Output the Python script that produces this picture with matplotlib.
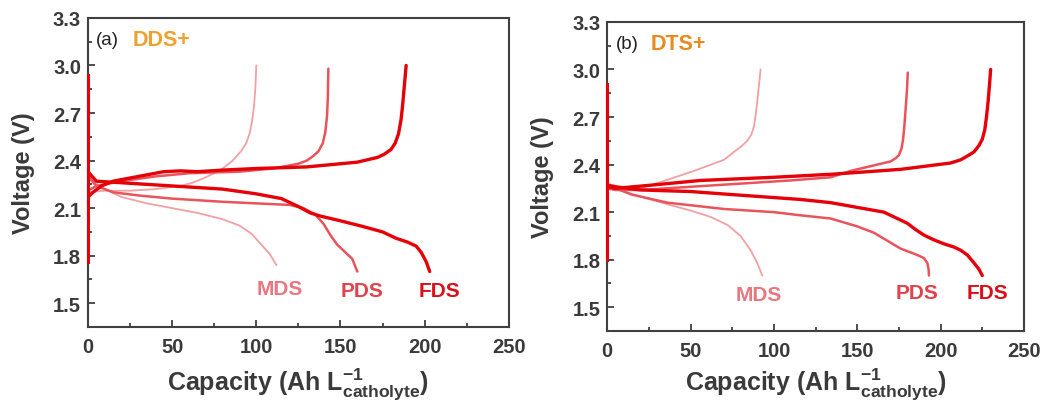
import numpy as np
import matplotlib
matplotlib.use('Agg')
import matplotlib.pyplot as plt
from matplotlib.ticker import MultipleLocator

plt.rcParams['font.family'] = ['Liberation Sans', 'DejaVu Sans']
plt.rcParams['mathtext.fontset'] = 'custom'
plt.rcParams['mathtext.rm'] = 'Liberation Sans:bold'
plt.rcParams['mathtext.it'] = 'Liberation Sans:bold'
plt.rcParams['mathtext.bf'] = 'Liberation Sans:bold'

# === Panel (a): DDS+ ===
a_mds_chg_cap = [0, 10, 25, 40, 55, 62, 68, 74, 80, 86, 91, 94, 96, 97.5, 98.7, 99.5, 100]
a_mds_chg_v = [2.20, 2.21, 2.21, 2.22, 2.24, 2.26, 2.285, 2.315, 2.35, 2.40, 2.46, 2.51, 2.57, 2.65, 2.75, 2.87, 3.00]
a_mds_dis_cap = [0, 3, 10, 20, 35, 50, 65, 80, 90, 97, 103, 108, 112]
a_mds_dis_v = [2.33, 2.27, 2.22, 2.17, 2.13, 2.10, 2.07, 2.03, 1.99, 1.94, 1.87, 1.81, 1.74]

a_pds_chg_cap = [0, 5, 20, 40, 60, 90, 110, 125, 130, 134, 137, 139.5, 141, 142, 142.5, 142.8]
a_pds_chg_v = [2.21, 2.24, 2.27, 2.30, 2.32, 2.33, 2.35, 2.38, 2.40, 2.43, 2.46, 2.51, 2.58, 2.68, 2.80, 2.98]
a_pds_dis_cap = [0, 5, 15, 30, 50, 80, 100, 120, 128, 135, 140, 144, 148, 153, 157, 160]
a_pds_dis_v = [2.30, 2.24, 2.20, 2.18, 2.16, 2.14, 2.13, 2.12, 2.10, 2.06, 2.00, 1.93, 1.87, 1.82, 1.78, 1.70]

a_fds_chg_cap = [0, 3, 8, 15, 25, 35, 45, 55, 65, 80, 100, 130, 160, 172, 176, 180, 182.5, 184.5, 186, 187, 188, 189]
a_fds_chg_v = [2.17, 2.20, 2.24, 2.27, 2.29, 2.31, 2.33, 2.335, 2.33, 2.34, 2.35, 2.36, 2.39, 2.42, 2.44, 2.47, 2.51, 2.57, 2.66, 2.76, 2.88, 3.00]
a_fds_dis_cap = [0, 5, 20, 50, 80, 100, 115, 125, 132, 138, 150, 163, 175, 183, 190, 195, 198, 201, 203]
a_fds_dis_v = [2.33, 2.27, 2.26, 2.24, 2.22, 2.19, 2.16, 2.11, 2.07, 2.05, 2.02, 1.985, 1.95, 1.91, 1.885, 1.86, 1.82, 1.76, 1.70]

a_rest_v = [1.76, 2.94]

# === Panel (b): DTS+ ===
b_mds_chg_cap = [0, 10, 20, 32, 52, 70, 76, 81, 84, 86.5, 88, 89, 90, 91, 92]
b_mds_chg_v = [2.28, 2.25, 2.25, 2.29, 2.36, 2.43, 2.48, 2.52, 2.55, 2.59, 2.64, 2.71, 2.80, 2.90, 3.00]
b_mds_dis_cap = [0, 5, 16, 36, 50, 62, 72, 80, 86, 90, 93]
b_mds_dis_v = [2.27, 2.25, 2.21, 2.15, 2.11, 2.07, 2.02, 1.95, 1.86, 1.78, 1.70]

b_pds_chg_cap = [0, 5, 20, 50, 80, 110, 134, 146, 158, 166, 170, 173, 175, 176.5, 177.5, 178.3, 179, 179.8, 180.3]
b_pds_chg_v = [2.25, 2.24, 2.24, 2.26, 2.28, 2.30, 2.32, 2.36, 2.39, 2.41, 2.42, 2.44, 2.46, 2.50, 2.56, 2.65, 2.75, 2.87, 2.98]
b_pds_dis_cap = [0, 5, 15, 36, 70, 100, 116, 134, 150, 160, 168, 176, 181, 186, 190, 192, 192.8, 193]
b_pds_dis_v = [2.27, 2.25, 2.21, 2.16, 2.12, 2.10, 2.08, 2.06, 2.01, 1.97, 1.92, 1.87, 1.85, 1.83, 1.81, 1.78, 1.74, 1.70]

b_fds_chg_cap = [0, 5, 26, 56, 100, 136, 176, 206, 212, 217, 220, 223, 225, 226.5, 227.5, 228.5, 229.3, 230]
b_fds_chg_v = [2.26, 2.25, 2.27, 2.30, 2.32, 2.34, 2.37, 2.41, 2.43, 2.46, 2.48, 2.52, 2.56, 2.62, 2.70, 2.80, 2.90, 3.00]
b_fds_dis_cap = [0, 5, 20, 50, 76, 116, 134, 150, 166, 180, 185, 190, 196, 202, 208, 212, 216, 220, 223, 225]
b_fds_dis_v = [2.27, 2.26, 2.24, 2.23, 2.21, 2.18, 2.16, 2.13, 2.10, 2.03, 1.99, 1.955, 1.925, 1.90, 1.88, 1.86, 1.83, 1.78, 1.74, 1.70]

b_rest_v = [1.80, 2.91]

# label anchor positions (capacity, voltage)
a_labels = [('MDS', 114, 1.59), ('PDS', 163, 1.58), ('FDS', 209, 1.58)]
b_labels = [('MDS', 91, 1.58), ('PDS', 186, 1.595), ('FDS', 228, 1.595)]

line_col = {'MDS': '#f2a0a4', 'PDS': '#e9545c', 'FDS': '#e60008'}
line_w = {'MDS': 1.3, 'PDS': 1.8, 'FDS': 2.4}
text_col = {'MDS': '#e8777f', 'PDS': '#e2424c', 'FDS': '#d8101a'}
frame_col = '#404040'

fig = plt.figure(figsize=(10.47, 4.02), dpi=100)
ax_a = fig.add_axes([0.084, 0.184, 0.402, 0.769])
ax_b = fig.add_axes([0.580, 0.174, 0.398, 0.769])

panels = [
    (ax_a, '(a)', 'DDS+', '#f0a030',
     {'MDS': (a_mds_chg_cap, a_mds_chg_v, a_mds_dis_cap, a_mds_dis_v),
      'PDS': (a_pds_chg_cap, a_pds_chg_v, a_pds_dis_cap, a_pds_dis_v),
      'FDS': (a_fds_chg_cap, a_fds_chg_v, a_fds_dis_cap, a_fds_dis_v)},
     a_rest_v, a_labels, 7),
    (ax_b, '(b)', 'DTS+', '#e88a20',
     {'MDS': (b_mds_chg_cap, b_mds_chg_v, b_mds_dis_cap, b_mds_dis_v),
      'PDS': (b_pds_chg_cap, b_pds_chg_v, b_pds_dis_cap, b_pds_dis_v),
      'FDS': (b_fds_chg_cap, b_fds_chg_v, b_fds_dis_cap, b_fds_dis_v)},
     b_rest_v, b_labels, 4),
]

for ax, tag, name, name_col, curves, rest_v, labels, xpad in panels:
    for key in ['MDS', 'PDS', 'FDS']:
        cc, cv, dc, dv = curves[key]
        ax.plot(cc, cv, color=line_col[key], lw=line_w[key], solid_capstyle='round',
                solid_joinstyle='round', zorder=3)
        ax.plot(dc, dv, color=line_col[key], lw=line_w[key], solid_capstyle='round',
                solid_joinstyle='round', zorder=3)
    ax.plot([0, 0], rest_v, color='#e60008', lw=2.2, zorder=4, clip_on=False)

    for lab, x, y in labels:
        ax.text(x, y, lab, color=text_col[lab], fontsize=15, fontweight='bold',
                ha='center', va='center')

    ax.text(0.02, 0.93, tag, transform=ax.transAxes, fontsize=13.5, color='#222222',
            ha='left', va='center')
    ax.text(0.105, 0.93, name, transform=ax.transAxes, fontsize=15.5, fontweight='bold',
            color=name_col, ha='left', va='center')

    ax.set_xlim(0, 250)
    ax.set_ylim(1.35, 3.3)
    ax.xaxis.set_major_locator(MultipleLocator(50))
    ax.xaxis.set_minor_locator(MultipleLocator(25))
    ax.yaxis.set_minor_locator(MultipleLocator(0.15))
    ax.set_yticks(np.arange(1.5, 3.31, 0.3))
    ax.yaxis.set_major_formatter(plt.FuncFormatter(lambda v, p: f'{v:.1f}'))
    ax.tick_params(which='both', direction='in', color=frame_col, width=1.3,
                   labelcolor='#3a3a3a', labelsize=14.5)
    ax.tick_params(which='major', length=5)
    ax.tick_params(which='minor', length=3)
    ax.tick_params(axis='x', pad=7)
    ax.tick_params(axis='y', pad=5)
    for t in ax.get_xticklabels() + ax.get_yticklabels():
        t.set_fontweight('bold')
    for sp in ax.spines.values():
        sp.set_color(frame_col)
        sp.set_linewidth(1.5)

    ax.set_xlabel(r'Capacity (Ah L$^{-1}_{catholyte}$)', fontsize=18, fontweight='bold',
                  color='#3a3a3a', labelpad=xpad)
    ax.set_ylabel('Voltage (V)', fontsize=17, fontweight='bold', color='#3a3a3a', labelpad=13)

fig.savefig('out.png', dpi=100)
